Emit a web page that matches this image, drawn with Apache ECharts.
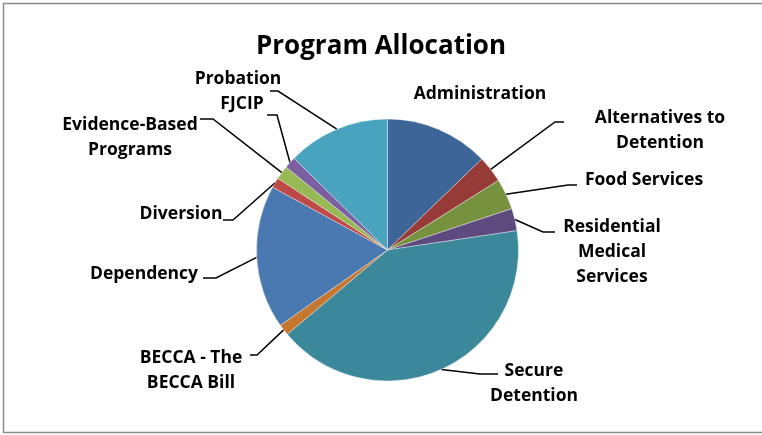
<!DOCTYPE html>
<html>
<head>
<meta charset="utf-8">
<script src="https://cdn.jsdelivr.net/npm/echarts@6/dist/echarts.min.js"></script>
<style>html,body{margin:0;padding:0;background:#fff}#c{width:762px;height:435px}</style>
</head>
<body>
<div id="c"></div>
<script>
var categories = ['Administration', 'Alternatives to Detention', 'Food Services', 'Residential Medical Services', 'Secure Detention', 'BECCA - The BECCA Bill', 'Dependency', 'Diversion', 'Evidence-Based Programs', 'FJCIP', 'Probation'];
var labelTexts = ['Administration', 'Alternatives to\nDetention', 'Food Services', 'Residential\nMedical\nServices', 'Secure\nDetention', 'BECCA - The\nBECCA Bill', 'Dependency', 'Diversion', 'Evidence-Based\nPrograms', 'FJCIP', 'Probation'];
var values = [12.8, 3.3, 3.8, 2.75, 41.25, 1.4, 17.7, 1.25, 1.7, 1.45, 12.65];
var colors = ['#3D6597', '#973B38', '#77923F', '#5F4A80', '#3A889A', '#C6772F', '#4A78B0', '#BE4A47', '#97B955', '#7C5FA0', '#48A3BE'];

// label layout (text centre, knee point, end point of leader line)
var labelLayoutTable = [
  {c: [480, 94.5], line: null},
  {c: [660, 130.5], line: [[555, 122], [564, 122]]},
  {c: [644, 180.5], line: [[568, 185], [577, 185]]},
  {c: [612, 252.5], line: [[543, 232], [555, 232]]},
  {c: [534, 383.5], line: [[480, 374], [498, 374]]},
  {c: [191, 370.5], line: [[257, 355], [250, 355]]},
  {c: [144, 274.5], line: [[216, 278], [203, 278]]},
  {c: [181, 214.5], line: [[233, 220], [223, 220]]},
  {c: [130, 137.5], line: [[213, 119], [200, 119]]},
  {c: [242, 104.5], line: [[277, 115], [267, 115]]},
  {c: [238, 79.5], line: [[278, 91], [270, 91]]}
];

var data = categories.map(function (n, i) {
  return {
    name: n,
    value: values[i],
    itemStyle: {color: colors[i]},
    labelLine: {show: labelLayoutTable[i].line !== null}
  };
});

var chart = echarts.init(document.getElementById('c'), null, {renderer: 'canvas'});
chart.setOption({
  animation: false,
  backgroundColor: '#fff',
  title: {
    text: 'Program Allocation',
    left: 'center',
    top: 29,
    textStyle: {fontFamily: 'Open Sans', fontWeight: 'bold', fontSize: 26, color: '#000'}
  },
  graphic: [{
    type: 'rect',
    shape: {x: 3.5, y: 3.5, width: 800, height: 429},
    style: {fill: 'none', stroke: '#8c8c8c', lineWidth: 1.5},
    silent: true
  }],
  series: [{
    type: 'pie',
    center: [387.5, 250],
    radius: 131,
    startAngle: 90,
    clockwise: true,
    avoidLabelOverlap: false,
    emphasis: {disabled: true},
    itemStyle: {borderColor: 'rgba(255,255,255,0.6)', borderWidth: 0.6},
    label: {
      show: true,
      position: 'outside',
      formatter: function (p) { return labelTexts[p.dataIndex]; },
      fontFamily: 'Open Sans',
      fontWeight: 'bold',
      fontSize: 17.5,
      lineHeight: 25,
      color: '#000',
      align: 'center'
    },
    labelLine: {show: true, lineStyle: {color: '#000', width: 1.5}},
    labelLayout: function (p) {
      var L = labelLayoutTable[p.dataIndex];
      var res = {x: L.c[0], y: L.c[1], align: 'center', verticalAlign: 'middle'};
      if (L.line && p.labelLinePoints) {
        res.labelLinePoints = [p.labelLinePoints[0], L.line[0], L.line[1]];
      }
      return res;
    },
    data: data
  }]
});
</script>
</body>
</html>
